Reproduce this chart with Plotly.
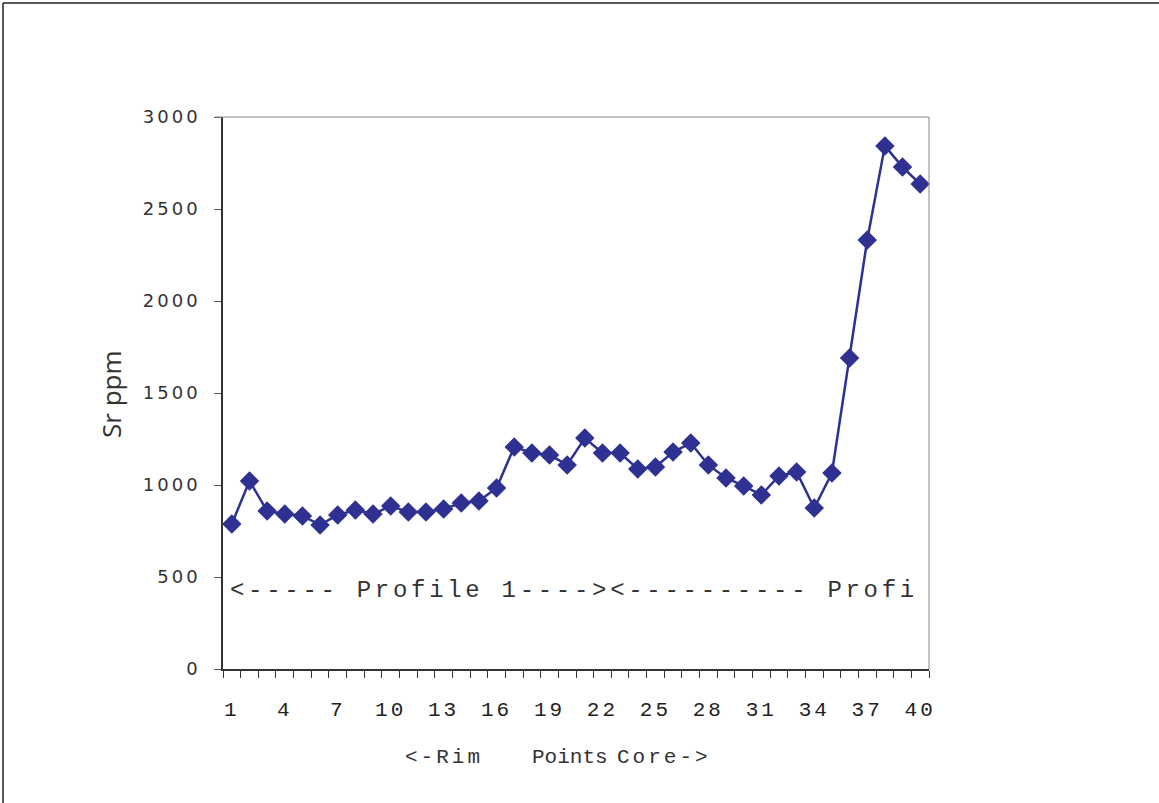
import plotly.graph_objects as go

points = list(range(1, 41))
sr_ppm = [788, 1022, 859, 842, 832, 783, 837, 864, 842, 886,
          853, 853, 870, 902, 913, 984, 1207, 1174, 1163, 1109,
          1255, 1174, 1174, 1087, 1098, 1179, 1228, 1109, 1038, 995,
          946, 1049, 1071, 875, 1065, 1690, 2332, 2843, 2728, 2636]
x_tick_vals = list(range(1, 41, 3)) + [40]
y_tick_vals = [0, 500, 1000, 1500, 2000, 2500, 3000]
y_title = "Sr ppm"
x_title_parts = ["<-Rim", "Points", "Core->"]
profile_text = "<----- Profile 1----><---------- Profi"

W, H = 1159, 803
L, R, T, B = 223, 929, 117, 669
pw, ph = R - L, B - T

def px(xp):
    return (xp - L) / pw

def py(yp):
    return (B - yp) / ph

navy = "#2E3192"

fig = go.Figure()
fig.add_trace(go.Scatter(
    x=points, y=sr_ppm, mode="lines+markers",
    line=dict(color=navy, width=2.5),
    marker=dict(symbol="diamond", size=15, color=navy,
                line=dict(color=navy, width=0)),
    showlegend=False, cliponaxis=False,
))

def ls(t, sp):
    return f"<span style='letter-spacing:{sp}px'>{t}</span>"

mono = dict(family="Liberation Mono", size=21, color="#333333")

fig.update_layout(
    width=W, height=H,
    margin=dict(l=L, r=W - R, t=T, b=H - B),
    paper_bgcolor="white", plot_bgcolor="white",
    xaxis=dict(
        range=[0.5, 40.5], showgrid=False, zeroline=False,
        showline=True, linecolor="#333333", linewidth=1.5,
        tickvals=x_tick_vals,
        ticktext=[ls(str(v), 3) for v in x_tick_vals],
        ticks="outside", ticklen=20, tickcolor="rgba(0,0,0,0)",
        tickfont=dict(family="Liberation Mono", size=21, color="#222222"),
        minor=dict(ticks="outside", tick0=0.5, dtick=1, ticklen=7,
                   tickcolor="#333333", tickwidth=1.2, showgrid=False),
    ),
    yaxis=dict(
        range=[0, 3000], showgrid=False, zeroline=False,
        showline=True, linecolor="#333333", linewidth=1.5,
        tickvals=y_tick_vals,
        ticktext=[ls(str(v), 3) for v in y_tick_vals],
        ticks="outside", ticklen=7, tickcolor="#555555",
        tickfont=dict(family="DejaVu Sans", size=18, color="#333333"),
        ticklabelstandoff=10,
    ),
    shapes=[
        dict(type="line", xref="paper", yref="paper", x0=px(215), x1=1, y0=1, y1=1,
             line=dict(color="#888888", width=1)),
        dict(type="line", xref="paper", yref="paper", x0=1, x1=1, y0=0, y1=1,
             line=dict(color="#888888", width=1)),
        dict(type="line", xref="paper", yref="paper", x0=px(3), x1=px(1159), y0=py(3), y1=py(3),
             line=dict(color="#222222", width=1.5)),
        dict(type="line", xref="paper", yref="paper", x0=px(3), x1=px(3), y0=py(3), y1=py(803),
             line=dict(color="#222222", width=1.5)),
    ],
    annotations=[
        dict(text=ls(profile_text, 3.7), xref="paper", yref="paper",
             x=px(228), y=py(590), xanchor="left", yanchor="middle", showarrow=False,
             font=dict(family="Liberation Mono", size=24, color="#333333")),
        dict(text=y_title, xref="paper", yref="paper", x=px(111), y=py(394),
             xanchor="center", yanchor="middle", textangle=-90, showarrow=False,
             font=dict(family="Open Sans", size=26, color="#333333")),
        dict(text=ls(x_title_parts[0], 3), xref="paper", yref="paper",
             x=px(403), y=py(757), xanchor="left", yanchor="middle", showarrow=False,
             font=mono),
        dict(text=x_title_parts[1], xref="paper", yref="paper",
             x=px(570), y=py(757), xanchor="center", yanchor="middle", showarrow=False,
             font=mono),
        dict(text=ls(x_title_parts[2], 3), xref="paper", yref="paper",
             x=px(615), y=py(757), xanchor="left", yanchor="middle", showarrow=False,
             font=mono),
    ],
)

fig.write_html("out.html")
